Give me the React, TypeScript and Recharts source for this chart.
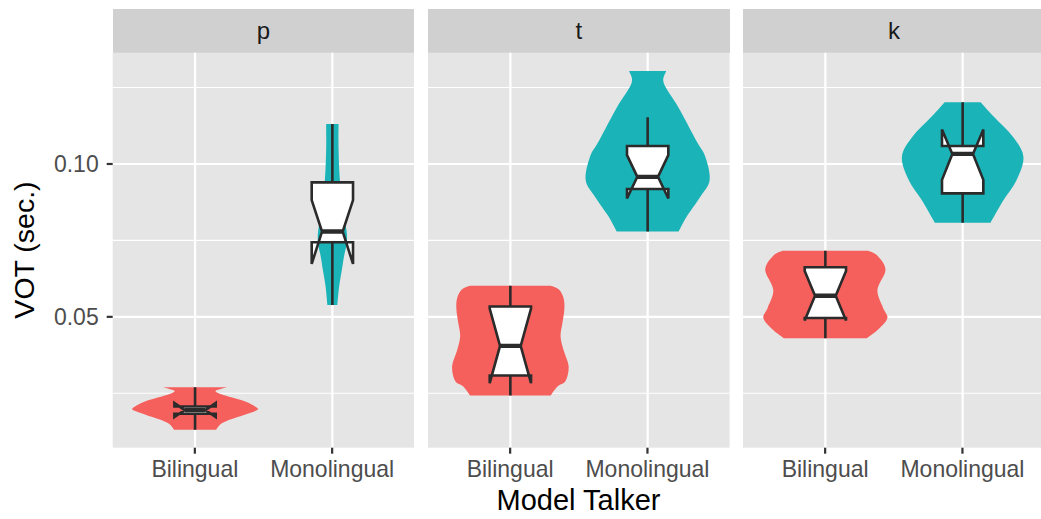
import React from 'react';
import { ComposedChart, Bar, XAxis, YAxis, CartesianGrid } from 'recharts';

const groups = ['Bilingual', 'Monolingual'];
const facets = ['p', 't', 'k'];
const majorTicks = [0.05, 0.1];
const minorTicks = [0.025, 0.075, 0.125];
const yDomain = [0.0072, 0.1364];
const groupColors = ['#F5605C', '#1AB4B8'];

// violin outlines, top to bottom: [VOT, half-width relative to the widest violin]
const pBilingualViolin: [number, number][] = [
  [0.027, 0.51], [0.0262, 0.38], [0.0256, 0.33], [0.0247, 0.42], [0.0236, 0.6],
  [0.0222, 0.82], [0.0205, 0.98], [0.0195, 1.0], [0.018, 0.8], [0.0165, 0.58],
  [0.015, 0.42], [0.0131, 0.34],
];
const pMonolingualViolin: [number, number][] = [
  [0.1131, 0.1], [0.105, 0.1], [0.095, 0.12], [0.085, 0.17], [0.078, 0.23],
  [0.074, 0.23], [0.07, 0.19], [0.065, 0.15], [0.06, 0.11], [0.0539, 0.08],
];
const tBilingualViolin: [number, number][] = [
  [0.0602, 0.65], [0.059, 0.78], [0.056, 0.86], [0.0523, 0.87], [0.048, 0.84],
  [0.0436, 0.81], [0.039, 0.86], [0.0338, 0.94], [0.029, 0.89], [0.0272, 0.76],
  [0.0243, 0.65],
];
const tMonolingualViolin: [number, number][] = [
  [0.1304, 0.3], [0.1264, 0.26], [0.1187, 0.49], [0.1078, 0.78], [0.1024, 0.93],
  [0.0948, 1.0], [0.0893, 0.85], [0.0828, 0.63], [0.0779, 0.5],
];
const kBilingualViolin: [number, number][] = [
  [0.0716, 0.69], [0.07, 0.84], [0.0654, 0.97], [0.0588, 0.84], [0.053, 0.93],
  [0.0496, 1.0], [0.046, 0.86], [0.043, 0.67],
];
const kMonolingualViolin: [number, number][] = [
  [0.1202, 0.29], [0.1155, 0.5], [0.1089, 0.81], [0.1024, 0.98], [0.0948, 0.87],
  [0.0882, 0.66], [0.0808, 0.45],
];

// notched boxplots: [lower whisker, notch lower, q1, median, q3, notch upper, upper whisker]
const pBilingualBox = [0.0131, 0.0172, 0.0183, 0.0195, 0.0207, 0.0218, 0.027];
const pMonolingualBox = [0.0539, 0.0673, 0.0744, 0.0779, 0.094, 0.0882, 0.1131];
const tBilingualBox = [0.0243, 0.0283, 0.0308, 0.0405, 0.0534, 0.0527, 0.0602];
const tMonolingualBox = [0.0779, 0.0887, 0.0918, 0.0958, 0.1059, 0.1029, 0.1153];
const kBilingualBox = [0.043, 0.0488, 0.0496, 0.0569, 0.0662, 0.065, 0.0716];
const kMonolingualBox = [0.0808, 0.0948, 0.0904, 0.1033, 0.1059, 0.1113, 0.1202];

const violins = [
  [pBilingualViolin, pMonolingualViolin],
  [tBilingualViolin, tMonolingualViolin],
  [kBilingualViolin, kMonolingualViolin],
];
const boxes = [
  [pBilingualBox, pMonolingualBox],
  [tBilingualBox, tMonolingualBox],
  [kBilingualBox, kMonolingualBox],
];

const FONT = '"Liberation Sans", Arial, Helvetica, sans-serif';
const PANEL_W = 301.6;
const PANEL_TOP = 52.7;
const PANEL_BOTTOM = 447.7;
const Y_AXIS_W = 112.7;
const panelLefts = [112.7, 428, 743.3];

function curve(pts: number[][]) {
  let d = '';
  for (let i = 0; i < pts.length - 1; i++) {
    const p0 = pts[i - 1] || pts[i];
    const p1 = pts[i];
    const p2 = pts[i + 1];
    const p3 = pts[i + 2] || p2;
    const c1x = p1[0] + (p2[0] - p0[0]) / 6;
    const c1y = p1[1] + (p2[1] - p0[1]) / 6;
    const c2x = p2[0] - (p3[0] - p1[0]) / 6;
    const c2y = p2[1] - (p3[1] - p1[1]) / 6;
    d += ` C ${c1x} ${c1y} ${c2x} ${c2y} ${p2[0]} ${p2[1]}`;
  }
  return d;
}

function ViolinBox(props: any) {
  const { x, y, width, height, payload } = props;
  const violin: [number, number][] = payload.violin;
  const box: number[] = payload.box;
  const vMax = payload.range[1];
  const vMin = payload.range[0];
  const py = (v: number) => y + (height * (vMax - v)) / (vMax - vMin);
  const cx = x + width / 2;
  const half = width / 2;

  const right = violin.map(([v, w]) => [cx + w * half, py(v)]);
  const left = violin.slice().reverse().map(([v, w]) => [cx - w * half, py(v)]);
  const vd =
    `M ${left[left.length - 1][0]} ${left[left.length - 1][1]} L ${right[0][0]} ${right[0][1]}` +
    curve(right) +
    ` L ${left[0][0]} ${left[0][1]}` +
    curve(left) +
    ' Z';

  const [lo, nl, q1, med, q3, nu, hi] = box;
  const bw = width / 3;
  const xmin = cx - bw / 2;
  const xmax = cx + bw / 2;
  const ind = bw * 0.25;
  const bpts = [
    [xmin, py(q3)], [xmin, py(nu)], [xmin + ind, py(med)], [xmin, py(nl)], [xmin, py(q1)],
    [xmax, py(q1)], [xmax, py(nl)], [xmax - ind, py(med)], [xmax, py(nu)], [xmax, py(q3)],
  ];
  const bd = 'M ' + bpts.map((p) => `${p[0]} ${p[1]}`).join(' L ') + ' Z';

  return (
    <g>
      <path d={vd} fill={payload.fill} stroke="none" />
      <line x1={cx} x2={cx} y1={py(q3)} y2={py(hi)} stroke="#2B2B2B" strokeWidth={2.6} />
      <line x1={cx} x2={cx} y1={py(q1)} y2={py(lo)} stroke="#2B2B2B" strokeWidth={2.6} />
      <path d={bd} fill="#FFFFFF" stroke="#2B2B2B" strokeWidth={2.6} strokeLinejoin="miter" />
      <line x1={xmin + ind} x2={xmax - ind} y1={py(med)} y2={py(med)} stroke="#2B2B2B" strokeWidth={4.4} />
    </g>
  );
}

function VerticalGrid(props: any) {
  const { x, y, width, height } = props;
  const cx = x + width / 2;
  return <line x1={cx} x2={cx} y1={y} y2={y + height} stroke="#FFFFFF" strokeWidth={2.2} />;
}

function Panel({ index }: { index: number }) {
  const first = index === 0;
  const data = groups.map((g, i) => {
    const violin = violins[index][i];
    return {
      group: g,
      range: [violin[violin.length - 1][0], violin[0][0]],
      violin,
      box: boxes[index][i],
      fill: groupColors[i],
    };
  });
  const left = first ? 0 : panelLefts[index];
  const width = first ? Y_AXIS_W + PANEL_W : PANEL_W;
  return (
    <div style={{ position: 'absolute', left, top: 0 }}>
      <ComposedChart
        width={width}
        height={519}
        data={data}
        barCategoryGap="5%"
        margin={{ top: PANEL_TOP, right: 0, bottom: 519 - PANEL_BOTTOM - 40, left: 0 }}
        style={{ fontFamily: FONT }}
      >
        <CartesianGrid
          fill="#E5E5E5"
          stroke="#FFFFFF"
          strokeWidth={1.1}
          vertical={false}
          horizontalValues={minorTicks}
        />
        <CartesianGrid stroke="#FFFFFF" strokeWidth={2.2} vertical={false} horizontalValues={majorTicks} />
        <XAxis
          dataKey="group"
          type="category"
          padding={{ left: 13.5, right: 13.5 }}
          axisLine={false}
          tickLine={{ stroke: '#333333', strokeWidth: 2.2 }}
          tickSize={6}
          tickMargin={7}
          height={40}
          tick={{ fontSize: 23, fill: '#4D4D4D', fontFamily: FONT }}
        />
        <YAxis
          type="number"
          domain={yDomain}
          allowDataOverflow
          ticks={majorTicks}
          tickFormatter={(v: number) => v.toFixed(2)}
          hide={!first}
          width={Y_AXIS_W}
          axisLine={false}
          tickLine={{ stroke: '#333333', strokeWidth: 2.2 }}
          tickSize={6}
          tickMargin={8}
          tick={{ fontSize: 23, fill: '#4D4D4D', fontFamily: FONT }}
        />
        <Bar
          dataKey="range"
          isAnimationActive={false}
          shape={<ViolinBox />}
          background={<VerticalGrid />}
        />
      </ComposedChart>
    </div>
  );
}

export default function App() {
  return (
    <div
      style={{
        position: 'absolute',
        left: 0,
        top: 0,
        width: 1041,
        height: 519,
        overflow: 'hidden',
        background: '#FFFFFF',
        fontFamily: FONT,
      }}
    >
      {facets.map((f, i) => (
        <div
          key={f}
          style={{
            position: 'absolute',
            left: panelLefts[i],
            top: 9.3,
            width: PANEL_W,
            height: PANEL_TOP - 9.3,
            background: '#D0D0D0',
          }}
        />
      ))}
      {facets.map((f, i) => (
        <Panel key={f} index={i} />
      ))}
      <svg width={1041} height={519} style={{ position: 'absolute', left: 0, top: 0, pointerEvents: 'none' }}>
        {facets.map((f, i) => (
          <text
            key={f}
            x={panelLefts[i] + PANEL_W / 2}
            y={39}
            textAnchor="middle"
            fontSize={24}
            fill="#1A1A1A"
            fontFamily={FONT}
          >
            {f}
          </text>
        ))}
        <text x={578.5} y={510} textAnchor="middle" fontSize={29} fill="#000000" fontFamily={FONT}>
          Model Talker
        </text>
        <text
          x={34}
          y={250}
          textAnchor="middle"
          fontSize={28.5}
          fill="#000000"
          fontFamily={FONT}
          transform="rotate(-90 34 250)"
        >
          VOT (sec.)
        </text>
      </svg>
    </div>
  );
}
